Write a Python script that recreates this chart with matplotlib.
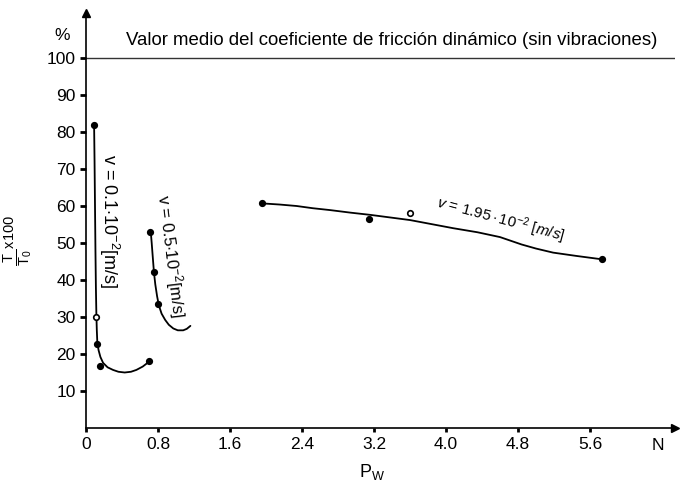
import matplotlib
matplotlib.use("Agg")
import matplotlib.pyplot as plt

plt.rcParams['font.family'] = ['Liberation Sans', 'DejaVu Sans']
plt.rcParams['mathtext.fontset'] = 'custom'
plt.rcParams['mathtext.rm'] = 'Liberation Sans'
plt.rcParams['mathtext.it'] = 'Liberation Sans:italic'
plt.rcParams['mathtext.bf'] = 'Liberation Sans:bold'

# measured points
s1_x = [0.09, 0.11, 0.126, 0.15, 0.70]
s1_y = [82.0, 30.0, 22.6, 16.8, 18.1]
s1_open = [False, True, False, False, False]

s2_x = [0.71, 0.75, 0.80]
s2_y = [52.9, 42.1, 33.4]

s3_x = [1.96, 3.14, 3.60, 5.73]
s3_y = [60.8, 56.5, 58.2, 45.6]
s3_open = [False, False, True, False]

# hand-drawn fitted curves
c1_x = [0.09, 0.095, 0.10, 0.105, 0.11, 0.115, 0.12, 0.126, 0.14, 0.16, 0.19, 0.24,
        0.30, 0.36, 0.43, 0.50, 0.56, 0.63, 0.70]
c1_y = [82.0, 72.0, 60.0, 48.0, 38.0, 31.0, 26.5, 23.0, 21.0, 19.2, 17.6, 16.4,
        15.7, 15.2, 15.0, 15.2, 15.7, 16.6, 17.9]

c2_x = [0.72, 0.73, 0.74, 0.755, 0.77, 0.79, 0.81, 0.84, 0.88, 0.92, 0.97, 1.02,
        1.08, 1.12, 1.16]
c2_y = [52.9, 50.0, 46.8, 42.1, 38.8, 35.6, 33.1, 30.9, 29.2, 27.9, 26.9, 26.4,
        26.4, 26.8, 27.6]

c3_x = [1.96, 2.15, 2.34, 2.52, 2.71, 2.94, 3.16, 3.38, 3.60, 3.84, 4.08, 4.35,
        4.60, 4.72, 4.84, 5.00, 5.19, 5.45, 5.73]
c3_y = [60.7, 60.4, 60.0, 59.4, 58.9, 58.2, 57.6, 56.9, 56.2, 55.1, 54.0, 52.9,
        51.6, 50.6, 49.6, 48.5, 47.4, 46.5, 45.6]

x_ticks = [0, 0.8, 1.6, 2.4, 3.2, 4.0, 4.8, 5.6]
x_tick_labels = ['0', '0.8', '1.6', '2.4', '3.2', '4.0', '4.8', '5.6']
y_ticks = [10, 20, 30, 40, 50, 60, 70, 80, 90, 100]
ref_level = 100

W, H = 682, 482
fig = plt.figure(figsize=(W / 100, H / 100), dpi=100)
ax = fig.add_axes([86 / W, (H - 428) / H, (675 - 86) / W, (428 - 13) / H])
ax.set_xlim(0, (675 - 86) / 90)
ax.set_ylim(0, (428 - 13) / 3.7)

for s in ['top', 'right']:
    ax.spines[s].set_visible(False)
for s in ['left', 'bottom']:
    ax.spines[s].set_linewidth(1.2)
ax.plot(1, 0, '>k', markersize=6, transform=ax.transAxes, clip_on=False)
ax.plot(0, 1, '^k', markersize=6, transform=ax.transAxes, clip_on=False)

ax.set_xticks(x_ticks)
ax.set_xticklabels(x_tick_labels)
ax.set_yticks(y_ticks)
ax.tick_params(axis='both', labelsize=12.5, width=2, length=4, colors='black')
ax.tick_params(axis='x', length=3)

ax.axhline(ref_level, color='#333333', lw=1.0)
ax.text(0.45, 102.5, 'Valor medio del coeficiente de fricción dinámico (sin vibraciones)',
        fontsize=13.4, ha='left', va='bottom')

lw = 1.3
for cx, cy in [(c1_x, c1_y), (c2_x, c2_y), (c3_x, c3_y)]:
    ax.plot(cx, cy, color='black', lw=lw, solid_joinstyle='round', solid_capstyle='round')

def pts(xs, ys, opens=None):
    for i, (x, y) in enumerate(zip(xs, ys)):
        o = opens[i] if opens else False
        ax.plot(x, y, 'o', color='black', markersize=4,
                markerfacecolor='white' if o else 'black', markeredgewidth=1.2, zorder=5)

pts(s1_x, s1_y, s1_open)
pts(s2_x, s2_y)
pts(s3_x, s3_y, s3_open)

ax.text(0.26, 56, r'v = 0.1$\cdot$10$^{-2}$[m/s]', rotation=-90, fontsize=13,
        ha='center', va='center')
ax.text(0.94, 46.5, r'v = 0.5$\cdot$10$^{-2}$[m/s]', rotation=-83, fontsize=12,
        ha='center', va='center')
ax.text(4.6, 56.2, r'$v$ = $1.95\cdot10^{-2}$ $[m/s]$', rotation=-15, fontsize=11,
        ha='center', va='center')

fig.text(62 / W, (H - 35) / H, '%', fontsize=12.5, ha='center', va='center')
fig.text(658 / W, (H - 445) / H, 'N', fontsize=12.5, ha='center', va='center')
fig.text(372 / W, (H - 472) / H, r'P$_\mathrm{W}$', fontsize=13, ha='center', va='center')
fig.text(18 / W, (H - 240) / H, r'$\frac{\mathrm{T}}{\mathrm{T}_0}^{\mathrm{x100}}$',
         fontsize=15, rotation=90, ha='center', va='center')

fig.savefig('out.png', dpi=100, facecolor='white')
